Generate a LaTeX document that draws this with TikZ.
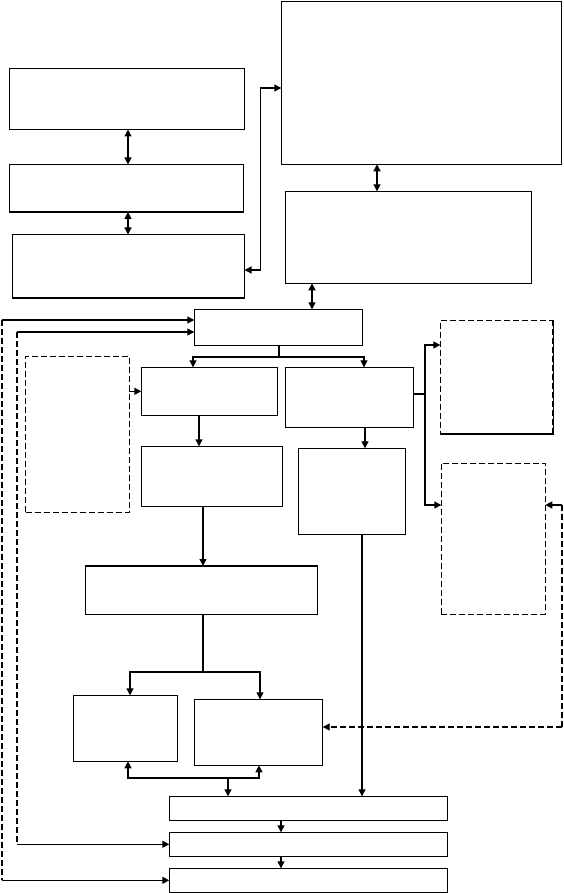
\documentclass[tikz,border=0pt]{standalone}
\usetikzlibrary{arrows.meta}
\tikzset{
  boxst/.style={draw, line width=1.2pt, inner sep=0pt, outer sep=0pt, fill=none},
  dbox/.style={boxst, dash pattern=on 6pt off 3pt},
  arr/.style={-{Triangle[length=7pt,width=7pt]}},
  dbl/.style={{Triangle[length=7pt,width=7pt]}-{Triangle[length=7pt,width=7pt]}},
  dsh/.style={dash pattern=on 6pt off 3pt},
}
\newcommand\mkbox[6][]{\node[boxst,#1,minimum width={(#5)-(#3)},minimum height={(#6)-(#4)}] (#2) at ({((#3)+(#5))/2},{((#4)+(#6))/2}) {};}
\begin{document}
\begin{tikzpicture}[x=1pt,y=-1pt,line width=1.2pt]
\useasboundingbox (0,0) rectangle (563,893);
% helper coordinates
\foreach \v in {2,17,128,130,193,199,203,228,259,260,279,281,312,362,364,365,377,425,562}{\coordinate (x\v) at (\v,0);}
\foreach \v in {88,270,320,332,357,394,345,505,672,727,778}{\coordinate (y\v) at (0,\v);}
% boxes
\mkbox{A}{9.5}{68.5}{244.5}{129.5}
\mkbox{B}{9.5}{164.5}{243.5}{212}
\mkbox{C}{12.5}{234.5}{244.5}{298}
\mkbox{D}{281.3}{1.3}{561.3}{164.3}
\mkbox{E}{285.3}{191.3}{531.3}{283.3}
\mkbox{F}{194.3}{309.3}{362.3}{345.3}
\mkbox{G}{141.3}{367.3}{277.3}{415.3}
\mkbox{H}{285.3}{367.3}{413.3}{427.3}
\mkbox[dbox]{L}{25.7}{356.3}{129.3}{512.3}
\mkbox{I}{141.3}{446.3}{282.7}{506.3}
\mkbox{J}{298.3}{448.3}{405.3}{534.3}
\mkbox[dbox]{RA}{440.3}{320.3}{553.3}{434}
\draw[dsh,line width=2.2pt] (RA.north east) -- (RA.south east) -- (RA.south west);
\mkbox[dbox]{RB}{441.3}{463.3}{545.3}{614.3}
\mkbox{N}{85.3}{566}{317.3}{614.3}
\mkbox{M}{73.3}{695.3}{177.3}{761.3}
\mkbox{K}{194.3}{699.3}{322.7}{765.3}
\mkbox{P}{169.3}{796.3}{447.3}{820.3}
\mkbox{Q}{169.3}{832.3}{447.3}{856.3}
\mkbox{S}{169.3}{868.3}{447.3}{892.3}
% connectors
\draw[dbl] (x128 |- A.south) -- (x128 |- B.north);
\draw[dbl] (x128 |- B.south) -- (x128 |- C.north);
\draw[dbl] (x377 |- D.south) -- (x377 |- E.north);
\draw[dbl] (x312 |- E.south) -- (x312 |- F.north);
\draw[dbl] (C.east |- y270) -- ++(16,0) |- (D.west |- y88);
\draw[arr] (x279 |- F.south) -- (x279 |- y357) -| (x193 |- G.north);
\draw[arr] (x279 |- y357) -| (x364 |- H.north);
\draw[arr] (L.east |- G.west) -- (G.west);
\draw[arr] (x199 |- G.south) -- (x199 |- I.north);
\draw[arr] (x365 |- H.south) -- (x365 |- J.north);
\draw[arr] (H.east |- y394) -- (x425 |- y394) |- (RA.west |- y345);
\draw[arr] (x425 |- y394) |- (RB.west |- y505);
\draw[arr] (x203 |- I.south) -- (x203 |- N.north);
\draw[arr] (x203 |- N.south) -- (x203 |- y672) -| (x130 |- M.north);
\draw[arr] (x203 |- y672) -| (x260 |- K.north);
\draw[arr] (x228 |- y778) -| (x128 |- M.south);
\draw[arr] (x228 |- y778) -| (x259 |- K.south);
\draw[arr] (x228 |- y778) -- (x228 |- P.north);
\draw[arr] (x362 |- J.south) -- (x362 |- P.north);
\draw[arr] (x281 |- P.south) -- (x281 |- Q.north);
\draw[arr] (x281 |- Q.south) -- (x281 |- S.north);
% left feedback lines
\draw[arr] (x2 |- y320) -- (F.west |- y320);
\draw[dsh] (x2 |- y320) -- (x2 |- S.west);
\draw[arr] (x2 |- S.west) -- (S.west);
\draw[arr] (x17 |- y332) -- (F.west |- y332);
\draw[dsh] (x17 |- y332) -- (x17 |- Q.west);
\draw[arr] (x17 |- Q.west) -- (Q.west);
% right feedback line
\draw[arr] (x562 |- y505) -- (RB.east |- y505);
\draw[dsh] (x562 |- y505) -- (x562 |- y727);
\draw[dsh,arr] (x562 |- y727) -- (K.east |- y727);
\end{tikzpicture}
\end{document}
